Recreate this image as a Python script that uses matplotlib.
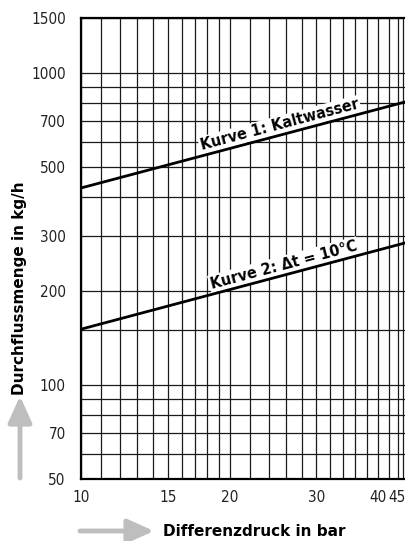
import numpy as np
import matplotlib.pyplot as plt
from matplotlib.ticker import FixedLocator, NullFormatter, FuncFormatter

# Differenzdruck (bar) vs. Durchflussmenge (kg/h), log-log
dp = [10, 46]
kurve1 = [428, 812]   # Kaltwasser
kurve2 = [151, 287]   # dt = 10 K

xticks = [10, 15, 20, 30, 40, 45]
yticks = [50, 70, 100, 200, 300, 500, 700, 1000, 1500]
xgrid = list(range(10, 20)) + list(range(20, 46, 2)) + [45]
ygrid = [50, 60, 70, 80, 90, 100, 150, 200, 300, 400, 500, 600, 700, 800, 900, 1000, 1500]

W, H = 406, 541
fig = plt.figure(figsize=(W / 100, H / 100), dpi=100)
ax = fig.add_axes([81 / W, 62 / H, 327 / W, 461 / H])
ax.set_xscale('log')
ax.set_yscale('log')
ax.set_xlim(10, 46)
ax.set_ylim(50, 1500)

tick_font = dict(fontsize=11, fontstretch='condensed', color='#222222')

# 45 sits on the cut right edge, it gets its own label further down
xfmt = FuncFormatter(lambda v, p: '' if round(v) == xticks[-1] else '%d' % round(v))
yfmt = FuncFormatter(lambda v, p: '%d' % round(v))
ax.xaxis.set_major_locator(FixedLocator(xticks))
ax.xaxis.set_minor_locator(FixedLocator(xgrid))
ax.yaxis.set_major_locator(FixedLocator(yticks))
ax.yaxis.set_minor_locator(FixedLocator(ygrid))
ax.xaxis.set_major_formatter(xfmt)
ax.yaxis.set_major_formatter(yfmt)
ax.xaxis.set_minor_formatter(NullFormatter())
ax.yaxis.set_minor_formatter(NullFormatter())
ax.tick_params(which='both', length=0)
ax.tick_params(axis='x', pad=8)
ax.tick_params(axis='y', pad=11)
for lab in ax.get_xticklabels() + ax.get_yticklabels():
    lab.set(**tick_font)
ax.annotate('%d' % xticks[-1], xy=(xticks[-1], 0), xycoords=('data', 'axes fraction'),
            xytext=(-6, -11), textcoords='offset pixels', ha='center', va='top',
            annotation_clip=False, **tick_font)

ax.grid(which='both', color='#1a1a1a', lw=0.9, zorder=0)
ax.set_axisbelow(True)
for s in ['left', 'bottom', 'top']:
    ax.spines[s].set_linewidth(1.6)
ax.spines['right'].set_visible(False)

ax.plot(dp, kurve1, color='black', lw=2.0, zorder=5, solid_capstyle='butt')
ax.plot(dp, kurve2, color='black', lw=2.0, zorder=5, solid_capstyle='butt')

# curve labels sit on the lines, white box hides the grid behind them
def curve_label(x, xs, ys, txt):
    k = np.log(ys[1] / ys[0]) / np.log(xs[1] / xs[0])
    y = ys[0] * (x / xs[0]) ** k
    p0 = ax.transData.transform((xs[0], ys[0]))
    p1 = ax.transData.transform((xs[1], ys[1]))
    ang = np.degrees(np.arctan2(p1[1] - p0[1], p1[0] - p0[0]))
    ax.text(x, y * 1.02, txt, rotation=ang, rotation_mode='anchor',
            ha='center', va='bottom', fontsize=11.5, fontweight='bold',
            fontstretch='condensed', zorder=4,
            bbox=dict(facecolor='white', edgecolor='none', pad=1.0))

curve_label(25.5, dp, kurve1, 'Kurve 1: Kaltwasser')
curve_label(26.0, dp, kurve2, 'Kurve 2: Δt = 10°C')

# axis titles with grey arrows
fig.text(20 / W, 1 - 288 / H, 'Durchflussmenge in kg/h', rotation=90,
         ha='center', va='center', fontsize=11, fontweight='bold')
fig.text(254 / W, 1 - 531 / H, 'Differenzdruck in bar',
         ha='center', va='center', fontsize=11, fontweight='bold')
arrow = dict(arrowstyle='-|>,head_width=0.45,head_length=1.0', color='#bebebe',
             lw=3.5, mutation_scale=16, shrinkA=0, shrinkB=0)
ax.annotate('', xy=(20 / W, 1 - 396 / H), xytext=(20 / W, 1 - 478 / H),
            xycoords='figure fraction', textcoords='figure fraction',
            arrowprops=arrow, annotation_clip=False)
ax.annotate('', xy=(154 / W, 1 - 531 / H), xytext=(80 / W, 1 - 531 / H),
            xycoords='figure fraction', textcoords='figure fraction',
            arrowprops=arrow, annotation_clip=False)

fig.savefig('out.png', dpi=100)
